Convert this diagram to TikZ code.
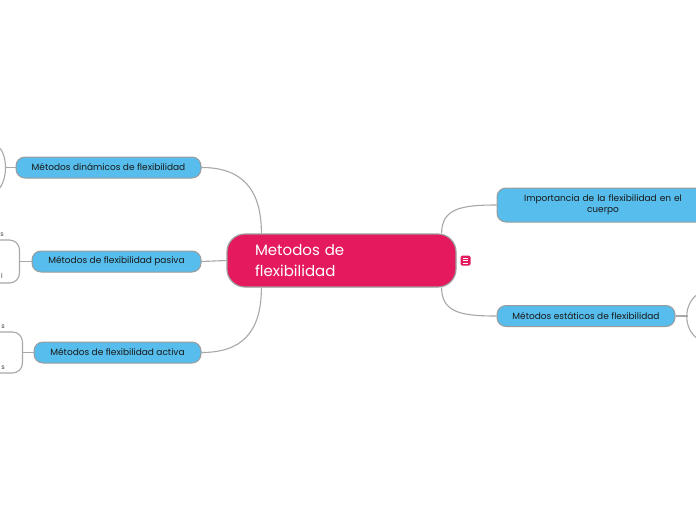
\documentclass[tikz,border=0pt]{standalone}
\usepackage{fontspec}
\setmainfont{Poppins}
\definecolor{rootred}{HTML}{E5195E}
\definecolor{topicblue}{HTML}{56BDEC}
\definecolor{edgegray}{HTML}{A8A8A8}
\definecolor{rimgray}{HTML}{9C9C9C}
\begin{document}
\begin{tikzpicture}[x=1pt,y=-1pt,
  topic/.style={draw=rimgray,line width=1pt,fill=topicblue,rounded corners=9pt,
    minimum height=21pt,inner xsep=4pt,inner ysep=2pt,font=\fontsize{9}{11}\selectfont,text=black!90},
  link/.style={draw=edgegray,line width=1.1pt},
  tip/.style={inner sep=0pt,font=\fontsize{6.5}{7}\selectfont,text=black!75}]
\useasboundingbox (0,0) rectangle (696,520);
\fill[white] (0,0) rectangle (696,520);
% connectors from the centre
\node[draw=rimgray,line width=1.2pt,fill=rootred,rounded corners=18pt,minimum width=229pt,
  minimum height=53pt,text width=173pt,inner xsep=28pt,align=left,text=white,
  font=\fontsize{15}{21}\selectfont] (root) at (341.5,260.5) {Metodos de\\flexibilidad};
\node[topic,minimum width=185pt] (dyn) at (108.5,167.5) {Métodos dinámicos de flexibilidad};
\node[topic,minimum width=169pt] (pas) at (116.5,261.5) {Métodos de flexibilidad pasiva};
\node[topic,minimum width=167pt] (act) at (117.5,352.5) {Métodos de flexibilidad activa};
\node[topic,minimum height=34pt,minimum width=212pt,text width=200pt,align=center] (imp) at (603,205)
  {Importancia de la flexibilidad en el\\cuerpo};
\node[topic,minimum width=178pt] (sta) at (586,316) {Métodos estáticos de flexibilidad};
\draw[link] (dyn.east) .. controls +(40,0) and +(0,-45) .. ([xshift=35pt]root.north west);
\draw[link] (pas.east) -- (root.west);
\draw[link] (act.east) .. controls +(40,0) and +(0,45) .. ([xshift=35pt]root.south west);
\draw[link] (imp.west) .. controls +(-35,0) and +(0,-25) .. ([xshift=-15pt]root.north east);
\draw[link] (sta.west) .. controls +(-35,0) and +(0,25) .. ([xshift=-15pt]root.south east);
% note icon
\node[fill=rootred,rounded corners=1.5pt,minimum size=10pt,inner sep=0pt] (note) at (465.5,260.5) {};
\foreach \dy in {-2.5,0,2.5}
  \draw[white,line width=0.9pt] ([xshift=-2.6pt,yshift=\dy pt]note.center) -- ++(5.2,0);
% groups running off the page
\draw[link] (dyn.west) -- ++(-11,0) coordinate (dynfork);
\draw[link] (-2,146) .. controls (8,155) and (8,180) .. (-2,190);
\draw[link] (pas.west) -- ++(-12,0) coordinate (pasfork);
\draw[link,rounded corners=10pt] (-5,240) -- (pasfork |- 0,240) -- (pasfork |- 0,283) -- (-5,283);
\node[tip,anchor=south east] (pastop) at (4,237) {s};
\node[tip,anchor=south east] (pasbot) at (3,279) {l};
\draw[link] (act.west) -- ++(-11,0) coordinate (actfork);
\draw[link,rounded corners=10pt] (-5,332) -- (actfork |- 0,332) -- (actfork |- 0,373) -- (-5,373);
\node[tip,anchor=south east] (acttop) at (5,329) {s};
\node[tip,anchor=south east] (actbot) at (5,370) {s};
\draw[link] (sta.east) -- ++(12,0) coordinate (stafork);
\draw[link] (698,294) .. controls (683,304) and (683,329) .. (698,339);
\end{tikzpicture}
\end{document}
